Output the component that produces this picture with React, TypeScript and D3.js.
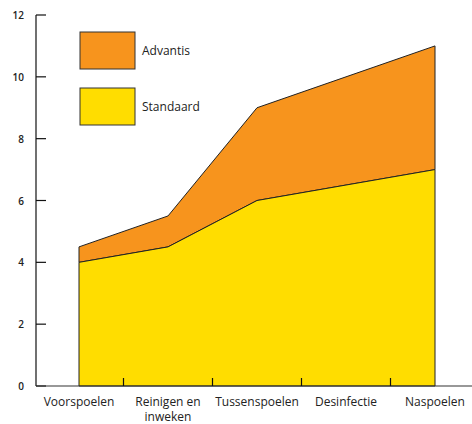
import * as d3 from "d3";

const categories = ["Voorspoelen", "Reinigen en inweken", "Tussenspoelen", "Desinfectie", "Naspoelen"];
const standaard = [4, 4.5, 6, 6.5, 7];
const advantis = [0.5, 1, 3, 3.5, 4];
const yTicks = [0, 2, 4, 6, 8, 10, 12];
const seriesNames = ["Advantis", "Standaard"];
const seriesColors = ["#f7941d", "#ffdd00"];

const W = 472;
const H = 424;
const font = "'Open Sans', 'DejaVu Sans', sans-serif";

export default function App() {
  const x = d3.scaleBand<string>().domain(categories).range([34.5, 479.5]);
  const cx = (c: string) => (x(c) ?? 0) + x.bandwidth() / 2;
  const y = d3.scaleLinear().domain([0, 12]).range([386, 15]);

  const rows = categories.map((c, i) => ({ cat: c, s: standaard[i], a: advantis[i] }));

  const lower = d3
    .area<(typeof rows)[number]>()
    .x((d) => cx(d.cat))
    .y0(y(0))
    .y1((d) => y(d.s));
  const upper = d3
    .area<(typeof rows)[number]>()
    .x((d) => cx(d.cat))
    .y0((d) => y(d.s))
    .y1((d) => y(d.s + d.a));

  const axisX = 36;
  const bounds = categories.slice(1).map((c) => x(c) ?? 0);

  return (
    <svg
      width={W}
      height={H}
      style={{ position: "absolute", left: 0, top: 0, background: "#fff" }}
      fontFamily={font}
    >
      {/* areas */}
      <path d={upper(rows) ?? ""} fill={seriesColors[0]} stroke="#222" strokeWidth={1} />
      <path d={lower(rows) ?? ""} fill={seriesColors[1]} stroke="#222" strokeWidth={1} />

      {/* y axis */}
      <line x1={axisX} x2={axisX} y1={y(12)} y2={y(0)} stroke="#111" strokeWidth={1.2} />
      {yTicks.map((t) => (
        <g key={t}>
          <line x1={axisX} x2={axisX + 10} y1={y(t)} y2={y(t)} stroke="#111" strokeWidth={1.2} />
          <text x={24} y={y(t) + 4} fontSize={10} fontWeight={600} textAnchor="end" fill="#222">
            {t}
          </text>
        </g>
      ))}

      {/* x axis */}
      <line x1={axisX} x2={W} y1={y(0)} y2={y(0)} stroke="#333" strokeWidth={1.2} />
      {bounds.map((b, i) => (
        <line key={i} x1={b} x2={b} y1={y(0)} y2={y(0) - 8} stroke="#111" strokeWidth={1.2} />
      ))}
      {categories.map((c) => {
        const parts = c === "Reinigen en inweken" ? ["Reinigen en", "inweken"] : [c];
        return parts.map((p, j) => (
          <text key={c + j} x={cx(c)} y={406 + j * 15} fontSize={12} textAnchor="middle" fill="#222">
            {p}
          </text>
        ));
      })}

      {/* legend */}
      {seriesNames.map((n, i) => (
        <g key={n} transform={`translate(80,${32 + i * 56})`}>
          <rect x={0} y={0} width={55} height={37} fill={seriesColors[i]} stroke="#333" strokeWidth={1} />
          <text x={62} y={23} fontSize={12} fill="#222">
            {n}
          </text>
        </g>
      ))}
    </svg>
  );
}
